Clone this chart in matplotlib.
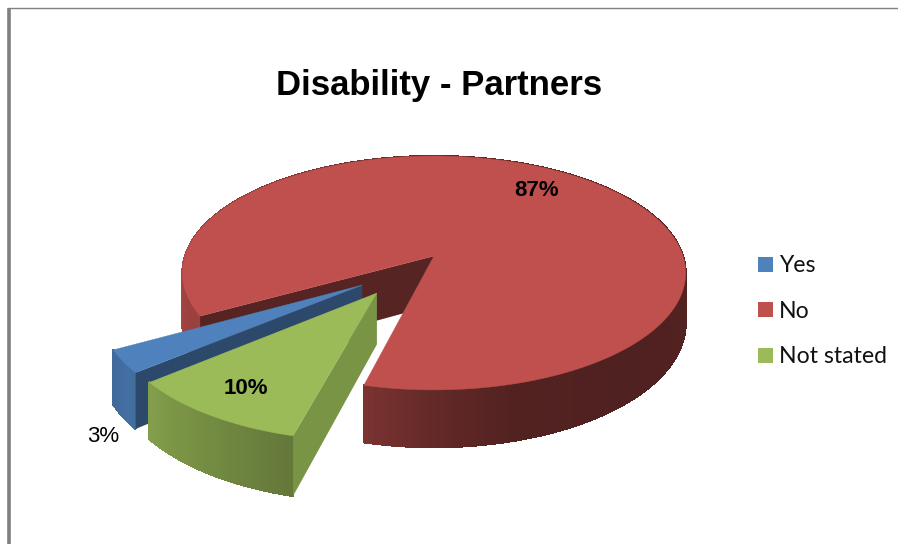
import matplotlib
matplotlib.use('Agg')
import matplotlib.pyplot as plt
from matplotlib.patches import Polygon, Rectangle
import numpy as np

title = 'Disability - Partners'
categories = ['Yes', 'No', 'Not stated']
values = [3, 87, 10]
value_labels = ['3%', '87%', '10%']

colors = ['#4F81BD', '#C0504D', '#9BBB59']
first_angle = 230      # where "Yes" begins, going clockwise from the top
offsets = [(-0.278, -0.245), (0, 0), (-0.219, -0.309)]  # exploded slices
cut_shade = [0.56, 0.45, 0.79]

cx, cy = 434, 256
A, B, K = 249, 114.5, 0.145
depth = 49


def proj(u, v, z=0):
    # simple perspective, front of the pie looks bigger
    w = 1 + K * v
    return cx + A * u / w, cy - B * v / w + z * depth / w


def rim(deg, off):
    t = np.radians(deg)
    return np.sin(t) + off[0], np.cos(t) + off[1]


def shade(deg):
    d = deg % 360
    return np.interp(d, [0, 90, 140, 165, 180, 196, 232, 243, 270, 360],
                     [0.5, 0.43, 0.41, 0.43, 0.52, 0.66, 0.86, 0.8, 0.88, 0.5])


def darker(col, f):
    return tuple(c * f for c in matplotlib.colors.to_rgb(col))


fig = plt.figure(figsize=(8.98, 5.44), dpi=100)
ax = fig.add_axes([0, 0, 1, 1])
ax.set_xlim(0, 898)
ax.set_ylim(544, 0)
ax.axis('off')

# grey frame, only left and top are visible
ax.plot([8.5, 8.5], [8, 544], color='#808080', lw=2.6, solid_capstyle='butt')
ax.plot([8, 898], [7.5, 7.5], color='#808080', lw=1.0, solid_capstyle='butt')

# slices go clockwise: Yes, No, Not stated
spans = np.array(values) / sum(values) * 360
a_blue = first_angle
a_red = a_blue + spans[0]
a_green = a_red + spans[1] - 360
angles = [(a_blue, a_blue + spans[0]), (a_red, a_red + spans[1]), (a_green, a_green + spans[2])]

for i in [1, 0, 2]:
    a0, a1 = angles[i]
    off = offsets[i]
    col = colors[i]
    arc = np.linspace(a0, a1, int((a1 - a0)) + 2)

    # outer rim, strip by strip so the shading follows the angle
    order = sorted(range(len(arc) - 1), key=lambda j: np.cos(np.radians(arc[j])), reverse=True)
    for j in order:
        p0 = rim(arc[j], off)
        p1 = rim(arc[j + 1], off)
        pts = [proj(*p0), proj(*p1), proj(*p1, 1), proj(*p0, 1)]
        c = darker(col, shade(arc[j]))
        ax.add_patch(Polygon(pts, closed=True, facecolor=c, edgecolor=c, lw=0.8, antialiased=False))

    # flat cut face that looks at the viewer
    p = rim(a0, off)
    pts = [proj(*off), proj(*p), proj(*p, 1), proj(*off, 1)]
    ax.add_patch(Polygon(pts, closed=True, facecolor=darker(col, cut_shade[i]), edgecolor='none'))

    # top face
    pts = [proj(*off)] + [proj(*rim(a, off)) for a in arc]
    ax.add_patch(Polygon(pts, closed=True, facecolor=col, edgecolor=col, lw=0.3))

ax.text(439, 86, title, ha='center', va='center', fontsize=25, fontweight='bold',
        family='Liberation Sans', color='black')

label_pos = [(103, 436), (537, 190), (246, 388)]
label_bold = ['normal', 'bold', 'bold']
for lab, pos, wt in zip(value_labels, label_pos, label_bold):
    ax.text(pos[0], pos[1], lab, ha='center', va='center', fontsize=16, fontweight=wt,
            family='Liberation Sans', color='black')

legend_y = [264, 309.5, 355]
for name, col, y in zip(categories, colors, legend_y):
    ax.add_patch(Rectangle((758, y - 7.5), 15, 15, facecolor=col, edgecolor='none'))
    ax.text(779, y + 1.5, name, ha='left', va='center', fontsize=16.6, family='Lato', color='#111111')

fig.savefig('out.png', dpi=100)
